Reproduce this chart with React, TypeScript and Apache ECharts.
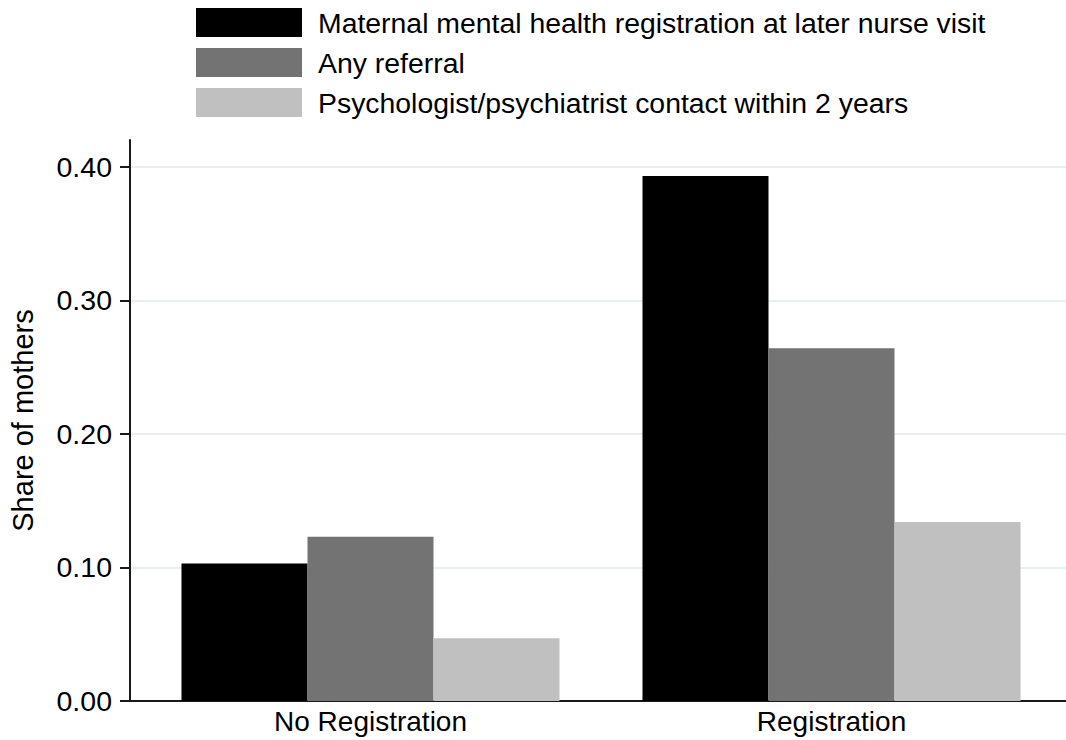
import React, { useEffect, useRef } from "react";
import * as echarts from "echarts";

const categories = ["No Registration", "Registration"];
const seriesNames = [
  "Maternal mental health registration at later nurse visit",
  "Any referral",
  "Psychologist/psychiatrist contact within 2 years",
];
const registrationValues = [0.103, 0.393];
const referralValues = [0.123, 0.264];
const psychValues = [0.047, 0.134];
const seriesColors = ["#000000", "#737373", "#c0c0c0"];
const yTicks = [0, 0.1, 0.2, 0.3, 0.4];
const yMax = 0.42;

const FONT = "'Liberation Sans', Arial, Helvetica, sans-serif";

export default function App() {
  const ref = useRef<HTMLDivElement>(null);
  useEffect(() => {
    if (!ref.current) return;
    const chart = echarts.init(ref.current, null, { renderer: "svg" });
    const values = [registrationValues, referralValues, psychValues];
    chart.setOption({
      animation: false,
      backgroundColor: "#ffffff",
      textStyle: { fontFamily: FONT },
      legend: {
        orient: "vertical",
        left: 191,
        top: 3,
        itemWidth: 106,
        itemHeight: 29,
        itemGap: 11,
        icon: "rect",
        selectedMode: false,
        data: seriesNames,
        textStyle: {
          fontFamily: FONT,
          fontSize: 28.4,
          color: "#000",
          padding: [0, 0, 0, 11],
        },
      },
      grid: [
        { left: 127, right: 0, top: 140, bottom: 39 },
        { left: 140, right: 4, top: 140, bottom: 39 },
      ],
      xAxis: [
        {
          type: "value",
          gridIndex: 0,
          min: 0,
          max: 1,
          axisLine: { show: true, onZero: false, lineStyle: { color: "#1a1a1a", width: 2 } },
          axisTick: { show: false },
          axisLabel: { show: false },
          splitLine: { show: false },
        },
        {
          type: "category",
          gridIndex: 1,
          data: categories,
          axisLine: { show: false },
          axisTick: { show: false },
          axisLabel: { fontFamily: FONT, fontSize: 28, color: "#000", margin: 6 },
          splitLine: { show: false },
        },
      ],
      yAxis: [
        {
          type: "value",
          gridIndex: 0,
          min: 0,
          max: yMax,
          name: "Share of mothers",
          nameLocation: "middle",
          nameGap: 93,
          nameTextStyle: { fontFamily: FONT, fontSize: 29, color: "#000" },
          axisLine: { show: true, lineStyle: { color: "#1a1a1a", width: 2 } },
          axisTick: {
            show: true,
            length: 10,
            customValues: yTicks,
            lineStyle: { color: "#1a1a1a", width: 2 },
          },
          axisLabel: {
            customValues: yTicks,
            fontFamily: FONT,
            fontSize: 28.5,
            color: "#000",
            margin: 18,
            formatter: (v: number) => v.toFixed(2),
          },
          splitLine: { show: true, lineStyle: { color: "#e8eff2", width: 2 } },
        },
        {
          type: "value",
          gridIndex: 1,
          min: 0,
          max: yMax,
          show: false,
          splitLine: { show: false },
        },
      ],
      series: seriesNames.map((name, i) => ({
        name,
        type: "bar",
        xAxisIndex: 1,
        yAxisIndex: 1,
        data: values[i],
        itemStyle: { color: seriesColors[i] },
        barGap: "0%",
        barCategoryGap: "18%",
      })),
    });
    return () => chart.dispose();
  }, []);
  return (
    <div
      ref={ref}
      style={{ position: "fixed", left: 0, top: 0, width: 1066, height: 740, background: "#fff" }}
    />
  );
}
